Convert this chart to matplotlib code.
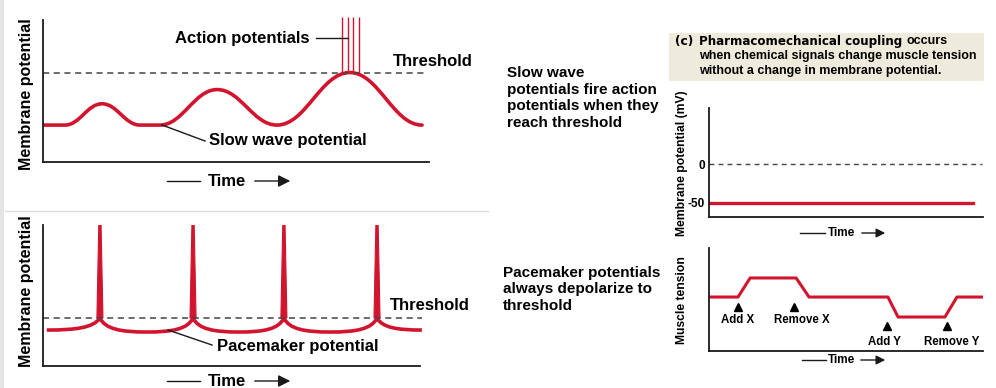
import matplotlib
matplotlib.use('Agg')
import matplotlib.pyplot as plt
from matplotlib.path import Path
from matplotlib.patches import PathPatch, Rectangle, FancyArrowPatch, Polygon
from matplotlib.lines import Line2D
from matplotlib.transforms import Affine2D

W, H = 996, 388
RED = '#d2152e'
INK = '#1a1a1a'
plt.rcParams['font.family'] = ['Liberation Sans', 'DejaVu Sans']
plt.rcParams['font.weight'] = 'bold'

# --- (a) slow wave potentials (time / potential in arbitrary units 0..10)
slow_t = [0.0, 0.57, 1.53, 2.51, 3.03, 4.51, 6.06, 7.95, 9.82]
slow_v = [2.6, 2.6, 4.1, 2.6, 2.6, 5.1, 2.6, 6.3, 2.6]
slow_threshold = 6.3
ap_t = [7.75, 7.90, 8.03, 8.19]
ap_top = 10.2

# --- (b) pacemaker potentials
pm_spike_t = [1.51, 3.98, 6.39, 8.86]
pm_trough_t = [2.75, 5.20, 7.62]
pm_start = (0.1, 2.55)
pm_end = (10.05, 2.55)
pm_threshold = 3.4
pm_trough = 2.41
pm_top = 10.0

# --- (c) pharmacomechanical coupling
vm_ticks = [0, -50]
vm_rest = -50
tension_t = [0, 1.06, 1.50, 3.18, 3.65, 6.53, 6.90, 8.61, 9.05, 9.96]
tension_v = [5.24, 5.24, 7.09, 7.09, 5.24, 5.24, 3.30, 3.30, 5.24, 5.24]
drug_labels = ['Add X', 'Remove X', 'Add Y', 'Remove Y']
drug_t = [1.06, 3.10, 6.50, 8.69]
drug_v = [4.27, 4.27, 2.43, 2.43]
drug_label_t = [1.06, 3.39, 6.42, 8.87]
drug_label_v = [3.0, 3.0, 0.87, 0.87]

swave_text = ['Slow wave', 'potentials fire action', 'potentials when they', 'reach threshold']
pace_text = ['Pacemaker potentials', 'always depolarize to', 'threshold']

fig = plt.figure(figsize=(W / 100, H / 100), dpi=100)
# pixel coordinates, origin top-left
PX = Affine2D().scale(1 / W, -1 / H).translate(0, 1) + fig.transFigure


def box(x0, y0, x1, y1):
    return [x0 / W, 1 - y1 / H, (x1 - x0) / W, (y1 - y0) / H]


def plain_axes(rect, xlim=(0, 10), ylim=(0, 10)):
    ax = fig.add_axes(box(*rect))
    ax.set_xlim(*xlim)
    ax.set_ylim(*ylim)
    for s in ['top', 'right']:
        ax.spines[s].set_visible(False)
    for s in ['left', 'bottom']:
        ax.spines[s].set_color(INK)
        ax.spines[s].set_linewidth(1.3)
    ax.set_xticks([])
    ax.set_yticks([])
    ax.patch.set_alpha(0)
    return ax


def smooth_path(ts, vs, k=0.4):
    verts = [(ts[0], vs[0])]
    codes = [Path.MOVETO]
    for i in range(1, len(ts)):
        d = (ts[i] - ts[i - 1]) * k
        verts += [(ts[i - 1] + d, vs[i - 1]), (ts[i] - d, vs[i]), (ts[i], vs[i])]
        codes += [Path.CURVE4] * 3
    return Path(verts, codes)


def fig_line(x0, y0, x1, y1, lw=1.0, color=INK):
    fig.add_artist(Line2D([x0, x1], [y0, y1], transform=PX, lw=lw, color=color))


def time_label(y, xl0, xl1, xt, xa0, xa1, size, head=9):
    fig_line(xl0, y, xl1, y, lw=1.0)
    fig.text(xt, y, 'Time', transform=PX, ha='center', va='center', fontsize=size)
    fig.add_artist(FancyArrowPatch((xa0, y), (xa1, y), transform=PX,
                                   arrowstyle='-|>,head_length=0.6,head_width=0.3',
                                   mutation_scale=head, lw=1.0, color=INK))


# background decorations
fig.add_artist(Rectangle((0, 0), 4, H, transform=PX, color='#e4e4e2', lw=0))
fig_line(5, 211, 488, 211, lw=1.0, color='#dcdcdc')

# ---------------- slow wave panel
ax1 = plain_axes((43, 20, 429, 162))
ax1.add_patch(PathPatch(smooth_path(slow_t, slow_v), fill=False, ec=RED, lw=2.6,
                        capstyle='round'))
ax1.plot([0, 9.95], [slow_threshold, slow_threshold], color='#444444', lw=1.1,
         dashes=(4, 3))
ax1.vlines(ap_t, slow_threshold, ap_top, color=RED, lw=1.0, clip_on=False)
fig.text(27, 94, 'Membrane potential', transform=PX, rotation=90, ha='center',
         va='center', fontsize=11.5)
fig.text(175, 38, 'Action potentials', transform=PX, ha='left', va='center', fontsize=12)
fig_line(316, 38, 348, 38)
fig.text(393, 61, 'Threshold', transform=PX, ha='left', va='center', fontsize=12)
fig.text(209, 140, 'Slow wave potential', transform=PX, ha='left', va='center', fontsize=12)
fig_line(162, 125, 205, 141)
time_label(181, 167, 200, 227, 252, 293, 12, head=12)

# ---------------- pacemaker panel
ax2 = plain_axes((43, 225, 420, 366))
verts = [pm_start]
codes = [Path.MOVETO]
prev = pm_start
stops = []
for i, ts in enumerate(pm_spike_t):
    stops.append(('up', ts))
    if i < len(pm_trough_t):
        stops.append(('down', pm_trough_t[i]))
stops.append(('end', pm_end[0]))
for kind, t in stops:
    t0, v0 = prev
    dt = t - t0
    if kind == 'up':
        verts += [(t0 + 0.55 * dt, v0), (t - 0.12 * dt, v0 + 0.2 * (pm_threshold - v0)),
                  (t, pm_threshold)]
        prev = (t, pm_threshold)
    else:
        v1 = pm_trough if kind == 'down' else pm_end[1]
        verts += [(t0 + 0.12 * dt, v1 + 0.2 * (pm_threshold - v1)), (t - 0.55 * dt, v1),
                  (t, v1)]
        prev = (t, v1)
    codes += [Path.CURVE4] * 3
ax2.add_patch(PathPatch(Path(verts, codes), fill=False, ec=RED, lw=2.6, clip_on=False))
for ts in pm_spike_t:
    ax2.add_patch(Polygon([(ts - 0.08, pm_threshold), (ts - 0.03, pm_top),
                           (ts + 0.03, pm_top), (ts + 0.08, pm_threshold)],
                          closed=True, fc=RED, ec=RED, lw=0.8))
ax2.plot([0, 10.05], [pm_threshold, pm_threshold], color='#444444', lw=1.1,
         dashes=(4, 3), clip_on=False)
fig.text(27, 291, 'Membrane potential', transform=PX, rotation=90, ha='center',
         va='center', fontsize=11.5)
fig.text(390, 306, 'Threshold', transform=PX, ha='left', va='center', fontsize=12)
fig.text(217, 346, 'Pacemaker potential', transform=PX, ha='left', va='center', fontsize=12)
fig_line(168, 330, 212, 345)
time_label(381, 167, 200, 227, 252, 293, 12, head=12)

# ---------------- middle captions
for i, line in enumerate(swave_text):
    fig.text(507, 73 + i * 16.7, line, transform=PX, ha='left', va='center', fontsize=11)
for i, line in enumerate(pace_text):
    fig.text(503, 273 + i * 16.5, line, transform=PX, ha='left', va='center', fontsize=11)

# ---------------- (c) header
fig.add_artist(Rectangle((669, 33), 315, 48, transform=PX, color='#efebdc', lw=0))
fig.text(675, 41, '(c)', transform=PX, ha='left', va='center', fontsize=8.8,
         family='DejaVu Sans')
head = fig.text(699, 41, 'Pharmacomechanical coupling', transform=PX, ha='left',
                va='center', fontsize=8.6, family='DejaVu Sans')
fig.add_artist(plt.Annotation('occurs', xy=(1, 0.5), xycoords=head, xytext=(3, 0),
                              textcoords='offset points', ha='left', va='center',
                              fontsize=9))
fig.text(699, 56, 'when chemical signals change muscle tension', transform=PX,
         ha='left', va='center', fontsize=9)
fig.text(699, 71, 'without a change in membrane potential.', transform=PX,
         ha='left', va='center', fontsize=9)

# membrane potential (mV)
ax3 = plain_axes((709, 108, 983, 217), ylim=(-68, 72))
ax3.plot([0, 9.95], [0, 0], color='#444444', lw=1.0, dashes=(3.5, 3))
ax3.plot([0, 9.65], [vm_rest, vm_rest], color=RED, lw=2.4)
ax3.set_yticks(vm_ticks)
ax3.set_yticklabels([str(v) for v in vm_ticks], fontsize=8.5, fontweight='bold')
ax3.tick_params(axis='y', length=0, pad=3)
fig.text(682, 163, 'Membrane potential (mV)', transform=PX, rotation=90, ha='center',
         va='center', fontsize=8.7)
time_label(233, 800, 825, 841, 859, 888, 8.5)

# muscle tension
ax4 = plain_axes((709, 248, 983, 351))
ax4.plot(tension_t, tension_v, color=RED, lw=2.2)
ax4.plot(drug_t, drug_v, '^', color='black', ms=6)
for lab, t, v in zip(drug_labels, drug_label_t, drug_label_v):
    ax4.text(t, v, lab, ha='center', va='center', fontsize=8.3)
fig.text(682, 300, 'Muscle tension', transform=PX, rotation=90, ha='center',
         va='center', fontsize=8.7)
time_label(360, 802, 826, 841, 858, 888, 8.5)

fig.savefig('out.png', dpi=100, facecolor='white')
